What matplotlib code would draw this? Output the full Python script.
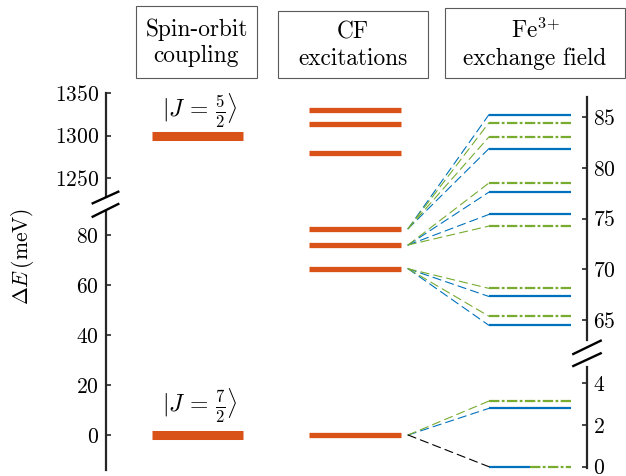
import matplotlib
matplotlib.use("Agg")
import matplotlib.pyplot as plt
from matplotlib.patches import ConnectionPatch, Rectangle
from matplotlib.lines import Line2D

plt.rcParams['font.family'] = 'serif'
plt.rcParams['font.serif'] = ['cmr10']
plt.rcParams['mathtext.fontset'] = 'cm'
plt.rcParams['axes.formatter.use_mathtext'] = True
plt.rcParams['lines.scale_dashes'] = False

# spin-orbit levels (meV)
so_levels = [0, 1300]
so_labels = [r'$|J\,=\,\frac{7}{2}\rangle$', r'$|J\,=\,\frac{5}{2}\rangle$']

# crystal field levels (meV)
cf_low = [0, 66.5, 76, 82.5]
cf_high = [1279, 1314, 1330]

# Fe3+ exchange splitting of each CF level (right axis, meV)
cf_parent = [66.5, 76, 82.5]
fe_blue = [[64.45, 67.3], [75.4, 77.6], [81.9, 85.25]]
fe_green = [[65.35, 68.1], [74.25, 78.5], [83.05, 84.45]]
gs_blue = 2.8
gs_green = 3.15
gs_zero = 0

left_ticks_low = [0, 20, 40, 60, 80]
left_ticks_high = [1250, 1300, 1350]
right_ticks_high = [65, 70, 75, 80, 85]
right_ticks_low = [0, 2, 4]

titles = ['Spin-orbit\ncoupling', 'CF\nexcitations', r'Fe$^{3\!+}$' + '\nexchange field']

orange = '#D95319'
blue = '#0072BD'
green = '#77AC30'
axcol = '#262626'

W, H = 626, 476
fig = plt.figure(figsize=(W / 100, H / 100), dpi=100)


def px_box(x0, x1, ytop, ybot):
    return [x0 / W, 1 - ybot / H, (x1 - x0) / W, (ybot - ytop) / H]


def fx(x):
    return x / W


def fy(y):
    return 1 - y / H


X0, X1 = 106, 587
ax_lh = fig.add_axes(px_box(X0, X1, 92.7, 196))
ax_ll = fig.add_axes(px_box(X0, X1, 211, 470))
ax_rh = fig.add_axes(px_box(X0, X1, 97, 340))
ax_rl = fig.add_axes(px_box(X0, X1, 366.7, 468))

ax_lh.set_ylim(1228.6, 1350.7)
ax_ll.set_ylim(-14, 89.6)
ax_rh.set_ylim(63.0, 87.0)
ax_rl.set_ylim(-0.062, 4.80)

for ax, side, ticks in [(ax_lh, 'left', left_ticks_high), (ax_ll, 'left', left_ticks_low),
                        (ax_rh, 'right', right_ticks_high), (ax_rl, 'right', right_ticks_low)]:
    ax.set_xlim(0, 10)
    ax.patch.set_visible(False)
    for s in ['top', 'bottom', 'left', 'right']:
        ax.spines[s].set_visible(s == side)
    ax.spines[side].set_color(axcol)
    ax.spines[side].set_linewidth(1.6)
    ax.set_xticks([])
    ax.set_yticks(ticks)
    if side == 'right':
        ax.yaxis.tick_right()
    ax.tick_params(axis='y', direction='in', length=3.5, width=1.2, color=axcol,
                   labelsize=15.5, pad=5 if side == 'left' else 4.5)

# spin-orbit bars
for ax, e, lab, ly in [(ax_ll, so_levels[0], so_labels[0], 11.6),
                       (ax_lh, so_levels[1], so_labels[1], 1329)]:
    ax.plot([0.96, 2.85], [e, e], color=orange, lw=6.5, solid_capstyle='butt')
    ax.text(1.95, ly, lab, ha='center', va='center', fontsize=17)

# CF bars
for e in cf_low:
    ax_ll.plot([4.22, 6.13], [e, e], color=orange, lw=3.8, solid_capstyle='butt')
for e in cf_high:
    ax_lh.plot([4.22, 6.13], [e, e], color=orange, lw=3.8, solid_capstyle='butt')

dash = (0, (6, 3.5))
dashdot = (0, (7.5, 1.7, 2, 1.7))


def connect(y0, ax_b, y1, col):
    con = ConnectionPatch((6.28, y0), (7.96, y1), coordsA=ax_ll.transData,
                          coordsB=ax_b.transData, color=col, lw=0.8, linestyle=dash)
    fig.add_artist(con)


# Fe3+ exchange split levels
for p, bl, gr in zip(cf_parent, fe_blue, fe_green):
    for e in bl:
        connect(p, ax_rh, e, blue)
        ax_rh.plot([7.96, 9.67], [e, e], color=blue, lw=1.6, solid_capstyle='butt')
    for e in gr:
        connect(p, ax_rh, e, green)
        ax_rh.plot([7.96, 9.67], [e, e], color=green, lw=1.6, linestyle=dashdot,
                   dash_capstyle='butt')

connect(0, ax_rl, gs_blue, blue)
connect(0, ax_rl, gs_green, green)
connect(0, ax_rl, gs_zero, 'black')
ax_rl.plot([7.96, 9.67], [gs_blue, gs_blue], color=blue, lw=1.6, solid_capstyle='butt')
ax_rl.plot([7.96, 9.67], [gs_green, gs_green], color=green, lw=1.6, linestyle=dashdot)
ax_rl.plot([7.96, 8.81], [gs_zero, gs_zero], color=blue, lw=1.6, solid_capstyle='butt',
           clip_on=False)
ax_rl.plot([8.81, 9.67], [gs_zero, gs_zero], color=green, lw=1.6, linestyle=dashdot,
           clip_on=False)

# axis break marks
for (xa, ya, xb, yb) in [(92.7, 203.3, 118.3, 191.7), (92.7, 216.7, 118.3, 204),
                         (573.3, 354, 600.7, 340.7), (573.3, 366, 600.7, 353.3)]:
    fig.add_artist(Line2D([fx(xa), fx(xb)], [fy(ya), fy(yb)], color='black', lw=1.7))

fig.text(fx(22), fy(256), r'$\Delta E\,(\mathrm{meV})$', rotation=90,
         ha='center', va='center', fontsize=15.5)

# header boxes
for t, (x0, x1, yt, yb) in zip(titles, [(136, 257, 6, 78), (278, 428, 11, 78), (445, 625, 8, 78)]):
    fig.add_artist(Rectangle((fx(x0), fy(yb)), fx(x1 - x0), (yb - yt) / H,
                             transform=fig.transFigure, fill=False,
                             edgecolor='#5a5a5a', lw=0.8))
    fig.text(fx((x0 + x1) / 2), fy((yt + yb) / 2 + 1), t, ha='center', va='center',
             multialignment='center', fontsize=16.8, linespacing=1.25)

fig.savefig('out.png', dpi=100)
